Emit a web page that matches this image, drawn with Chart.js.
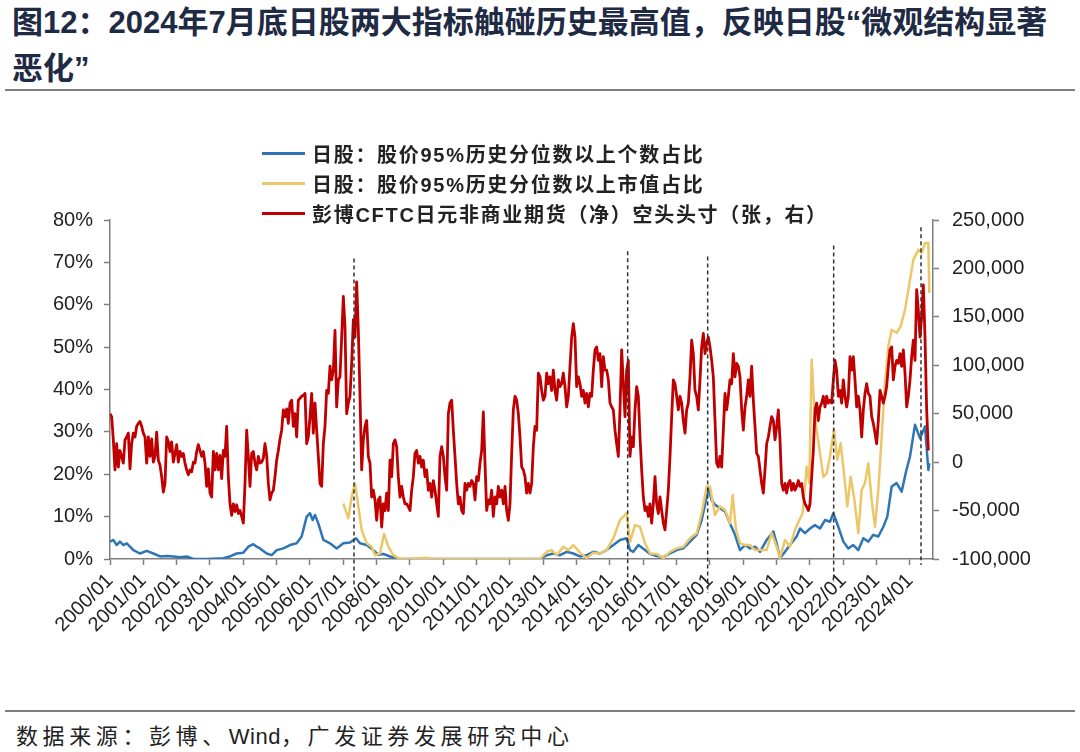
<!DOCTYPE html>
<html lang="zh-CN">
<head>
<meta charset="utf-8">
<title>图12</title>
<script src="https://cdn.jsdelivr.net/npm/chart.js@4.4.1/dist/chart.umd.min.js"></script>
<style>
  html, body { margin: 0; padding: 0; background: #fff; }
  body { width: 1080px; height: 752px; position: relative; overflow: hidden;
         font-family: "Liberation Sans", Arial, "Noto Sans CJK SC", sans-serif; }
  #title { position: absolute; left: 12px; top: 0; color: #1f2a44; white-space: nowrap;
           font: bold 31px/46px "Liberation Sans", "Noto Sans CJK SC", sans-serif; }
  .rule { position: absolute; left: 5px; width: 1070px; height: 2px; background: #7f7f7f; }
  #legend { position: absolute; left: 262px; top: 138px; z-index: 2; }
  #legend .item { height: 30px; display: flex; align-items: center; color: #222;
                  font: bold 20px "Liberation Sans", "Noto Sans CJK SC", sans-serif; letter-spacing: 1.7px; }
  #legend .swatch { width: 43px; height: 3px; margin-right: 7px; }
  #wrap { position: absolute; left: 0; top: 195px; width: 1080px; height: 500px; }
  #source { position: absolute; left: 16px; top: 718px; color: #222;
            font: 22px "Liberation Sans", "Noto Sans CJK SC", sans-serif; letter-spacing: 4.6px; }
  #source .latin { letter-spacing: 0.5px; }
</style>
</head>
<body>
<div id="title">图12：2024年7月底日股两大指标触碰历史最高值，反映日股“微观结构显著<br>恶化”</div>
<div class="rule" style="top:89px"></div>
<div id="legend"></div>
<div id="wrap"><canvas id="chart"></canvas></div>
<div class="rule" style="top:710px"></div>
<div id="source">数据来源：彭博、<span class="latin">Wind</span>，广发证券发展研究中心</div>

<script>
// 日股：股价95%历史分位数以上个数占比（%，左轴）
const countDates = [
  2000.00, 2000.10, 2000.20, 2000.30, 2000.40, 2000.50, 2000.60, 2000.70, 2000.90, 2001.10,
  2001.30, 2001.50, 2001.70, 2001.90, 2002.10, 2002.30, 2002.50, 2002.90, 2003.40, 2003.60,
  2003.80, 2004.00, 2004.15, 2004.30, 2004.40, 2004.50, 2004.70, 2004.85, 2005.00, 2005.20,
  2005.40, 2005.60, 2005.75, 2005.90, 2006.00, 2006.08, 2006.15, 2006.25, 2006.40, 2006.60,
  2006.80, 2007.00, 2007.20, 2007.38, 2007.50, 2007.70, 2007.90, 2008.05, 2008.20, 2008.40,
  2008.70, 2012.90, 2013.10, 2013.30, 2013.50, 2013.70, 2013.90, 2014.10, 2014.30, 2014.50,
  2014.70, 2014.90, 2015.10, 2015.30, 2015.50, 2015.60, 2015.70, 2015.85, 2016.05, 2016.20,
  2016.40, 2016.60, 2016.80, 2017.00, 2017.20, 2017.40, 2017.60, 2017.75, 2017.90, 2017.96,
  2018.05, 2018.15, 2018.30, 2018.45, 2018.60, 2018.75, 2018.90, 2019.05, 2019.20, 2019.35,
  2019.50, 2019.70, 2019.90, 2020.00, 2020.10, 2020.25, 2020.40, 2020.60, 2020.70, 2020.85,
  2021.00, 2021.15, 2021.30, 2021.45, 2021.60, 2021.70, 2021.85, 2022.00, 2022.15, 2022.30,
  2022.45, 2022.60, 2022.75, 2022.90, 2023.05, 2023.20, 2023.32, 2023.45, 2023.60, 2023.75,
  2023.88, 2024.00, 2024.15, 2024.30, 2024.45, 2024.55, 2024.58
];
const countPct = [
  4.1, 4.5, 3.3, 4.1, 3.3, 3.7, 2.9, 2.1, 1.3, 1.9,
  1.3, 0.6, 0.7, 0.6, 0.4, 0.6, 0.0, 0.0, 0.2, 0.6,
  1.3, 1.5, 2.9, 3.5, 2.9, 2.5, 1.3, 0.9, 2.1, 2.5,
  3.3, 3.7, 5.3, 10.0, 10.8, 9.2, 10.4, 8.4, 4.5, 3.7,
  2.5, 3.7, 3.9, 4.9, 3.7, 3.3, 2.1, 1.0, 1.2, 0.6,
  0.0, 0.0, 0.9, 1.3, 0.9, 1.7, 1.3, 0.6, 0.9, 1.7,
  1.3, 2.1, 3.3, 4.5, 4.9, 2.1, 1.7, 3.3, 2.1, 1.2,
  0.7, 0.4, 1.3, 2.1, 2.5, 4.1, 5.7, 9.2, 14.7, 16.7,
  13.9, 12.8, 12.0, 11.2, 8.4, 5.7, 2.1, 3.3, 2.5, 2.9,
  1.7, 4.5, 6.5, 3.7, 0.2, 1.7, 3.3, 5.3, 7.2, 6.1,
  7.2, 8.0, 7.2, 9.2, 8.8, 10.8, 7.6, 4.1, 2.5, 3.3,
  2.1, 4.9, 4.1, 5.7, 5.3, 7.6, 10.0, 17.1, 17.9, 15.9,
  20.6, 24.2, 31.7, 28.5, 31.3, 21.0, 22.6
];

// 日股：股价95%历史分位数以上市值占比（%，左轴）
const capDates = [
  2007.00, 2007.15, 2007.25, 2007.35, 2007.45, 2007.55, 2007.70, 2007.85, 2007.95, 2008.10,
  2008.22, 2008.35, 2008.50, 2008.65, 2008.85, 2009.50, 2009.70, 2012.90, 2013.10, 2013.25,
  2013.40, 2013.60, 2013.75, 2013.90, 2014.10, 2014.30, 2014.50, 2014.70, 2014.90, 2015.10,
  2015.30, 2015.50, 2015.60, 2015.75, 2015.90, 2016.05, 2016.20, 2016.40, 2016.60, 2016.80,
  2017.00, 2017.20, 2017.40, 2017.60, 2017.75, 2017.90, 2018.00, 2018.15, 2018.30, 2018.45,
  2018.60, 2018.68, 2018.78, 2018.90, 2019.05, 2019.20, 2019.35, 2019.50, 2019.70, 2019.85,
  2020.00, 2020.10, 2020.25, 2020.40, 2020.55, 2020.68, 2020.78, 2020.90, 2020.98, 2021.05,
  2021.12, 2021.20, 2021.30, 2021.40, 2021.50, 2021.60, 2021.72, 2021.82, 2021.92, 2022.02,
  2022.12, 2022.22, 2022.32, 2022.45, 2022.55, 2022.65, 2022.75, 2022.85, 2022.95, 2023.05,
  2023.15, 2023.25, 2023.35, 2023.45, 2023.60, 2023.72, 2023.85, 2023.95, 2024.10, 2024.25,
  2024.35, 2024.45, 2024.55, 2024.58
];
const capPct = [
  13.1, 9.6, 14.7, 17.9, 12.4, 6.9, 3.7, 2.9, 0.9, 1.3,
  5.9, 2.9, 0.9, 0.2, 0.0, 0.3, 0.0, 0.0, 1.7, 2.1,
  0.9, 2.9, 2.1, 3.3, 1.5, 0.2, 1.5, 1.3, 2.1, 4.9,
  9.2, 10.8, 4.0, 8.0, 7.6, 3.7, 1.3, 1.2, 0.2, 1.7,
  2.5, 2.9, 4.9, 6.1, 10.8, 17.1, 17.1, 10.4, 12.4, 11.6,
  8.4, 15.1, 6.9, 3.7, 3.3, 3.3, 2.1, 2.1, 2.1, 6.1,
  2.9, 0.2, 4.5, 2.9, 6.9, 9.2, 10.8, 21.8, 17.9, 47.0,
  36.8, 30.5, 25.0, 19.4, 20.2, 24.2, 30.5, 23.4, 27.3, 20.2,
  12.4, 19.4, 14.7, 6.1, 16.3, 17.9, 22.6, 13.9, 7.6, 16.3,
  28.9, 41.5, 50.2, 54.1, 53.4, 54.9, 58.8, 63.5, 70.6, 73.0,
  72.2, 74.6, 74.6, 62.8
];

// 彭博CFTC日元非商业期货（净）空头头寸（张，右轴），2000年起每0.05年一个读数
const cftcStart = 2000, cftcStep = 0.05;
const cftcPos = [
  // 2000
  50000, 47000, 23000, -8000, 19000, -5000, 12000, 6000, -1000, 23000,
  26000, 30000, -7000, 19000, 30000, 26000, 37000, 40000, 42000, 37000,
  // 2001
  30000, 26000, -1000, 26000, 6000, 24000, 0, 6000, 31000, 2000,
  -3000, -15000, -31000, -22000, 26000, 21000, 11000, 21000, 0, 9000,
  // 2002
  18000, 0, 11000, 6000, 9000, -1000, -8000, -13000, -8000, -10000,
  0, -1000, 11000, 18000, 12000, 6000, 11000, -1000, -25000, -7000,
  // 2003
  -32000, -36000, 11000, -8000, 9000, -8000, 7000, -17000, 12000, 6000,
  37000, -15000, -43000, -55000, -43000, -51000, -44000, -53000, -50000, -56000,
  // 2004
  -63000, -22000, 33000, 6000, -25000, 9000, 11000, -1000, -8000, 6000,
  -1000, 0, 4000, 19000, 7000, -22000, -39000, -32000, -29000, -15000,
  // 2005
  2000, 12000, 24000, 33000, 54000, 47000, 55000, 40000, 61000, 64000,
  37000, 50000, 26000, 64000, 66000, 68000, 69000, 71000, 19000, 26000,
  // 2006
  47000, 71000, 30000, 61000, 33000, 6000, -22000, -25000, 19000, 37000,
  74000, 71000, 99000, 85000, 95000, 136000, 57000, 85000, 88000, 129000,
  // 2007
  171000, 140000, 50000, 61000, 68000, 102000, 147000, 129000, 186000, 136000,
  68000, -8000, 23000, 37000, 43000, 6000, -1000, -36000, -29000, -39000,
  // 2008
  -60000, -39000, -36000, -67000, -43000, -50000, -32000, -50000, 2000, -15000,
  19000, 23000, 16000, -15000, -36000, -25000, -36000, -43000, -43000, -46000,
  // 2009
  -50000, -29000, -15000, 9000, 12000, -1000, 6000, -5000, 2000, -15000,
  -8000, -29000, -22000, -36000, -19000, -29000, -43000, -56000, 6000, 16000,
  // 2010
  6000, -15000, -29000, 50000, 61000, 64000, 33000, 6000, -22000, -43000,
  -36000, -50000, -53000, -22000, -29000, -22000, -25000, -19000, -22000, -39000,
  // 2011
  -15000, -19000, -1000, 12000, 52000, -1000, -50000, -39000, -43000, -29000,
  -56000, -36000, -43000, -25000, -36000, -29000, -43000, -25000, -50000, -60000,
  // 2012
  -43000, 9000, 54000, 68000, 64000, 50000, 26000, -5000, -8000, -15000,
  -32000, -22000, -32000, -22000, 16000, 37000, 33000, 92000, 88000, 74000,
  // 2013
  64000, 68000, 92000, 81000, 88000, 74000, 95000, 74000, 64000, 85000,
  78000, 81000, 92000, 78000, 57000, 68000, 99000, 129000, 143000, 129000,
  // 2014
  78000, 88000, 81000, 68000, 74000, 61000, 71000, 57000, 71000, 68000,
  95000, 116000, 119000, 105000, 112000, 78000, 109000, 95000, 95000, 85000,
  // 2015
  61000, 57000, 54000, 33000, 19000, 6000, 54000, 116000, 81000, 47000,
  95000, 105000, 6000, 26000, 16000, 54000, 78000, 68000, 26000, -8000,
  // 2016
  -36000, -50000, -46000, -56000, -43000, -63000, -43000, -15000, -43000, -53000,
  -36000, -50000, -63000, -70000, -50000, -29000, 6000, 47000, 85000, 81000,
  // 2017
  68000, 54000, 68000, 61000, 43000, 30000, 54000, 61000, 88000, 126000,
  112000, 74000, 68000, 54000, 85000, 119000, 133000, 112000, 123000, 129000,
  // 2018
  119000, 105000, 88000, 43000, -1000, -5000, 6000, -5000, 33000, 71000,
  54000, 68000, 85000, 81000, 112000, 88000, 102000, 99000, 88000, 54000,
  // 2019
  33000, 57000, 68000, 85000, 68000, 99000, 64000, 37000, 9000, 6000,
  -8000, -22000, -32000, -8000, 19000, 26000, 37000, 47000, 43000, 23000,
  // 2020
  37000, 54000, 23000, -22000, -29000, -22000, -32000, -22000, -19000, -29000,
  -22000, -29000, -25000, -19000, -25000, -22000, -36000, -43000, -46000, -50000,
  // 2021
  -43000, -15000, 12000, 54000, 61000, 43000, 57000, 61000, 68000, 57000,
  68000, 61000, 64000, 61000, 85000, 105000, 95000, 68000, 74000, 61000,
  // 2022
  85000, 68000, 57000, 68000, 109000, 95000, 109000, 85000, 57000, 68000,
  54000, 26000, 54000, 71000, 81000, 71000, 68000, 47000, 40000, 30000,
  // 2023
  19000, 43000, 74000, 68000, 61000, 68000, 78000, 99000, 116000, 119000,
  85000, 99000, 105000, 102000, 112000, 99000, 116000, 92000, 57000, 68000,
  // 2024
  85000, 109000, 126000, 105000, 178000, 157000, 129000, 150000, 183000, 129000,
  54000, 12000
];
const cftcDates = cftcPos.map((_, i) => +(cftcStart + i * cftcStep).toFixed(2));

// 竖向虚线：日期、上端与下端（左轴%）
const markerDates = [2007.32, 2015.53, 2017.93, 2021.71, 2024.33];
const markerTops = [70.9, 72.6, 71.4, 74.0, 78.3];
const markerBottoms = [-6.6, -6.1, -8.0, -5.4, -1.4];

const xMin = 2000, xMax = 2024.69;

function toPoints(xs, ys) {
    return xs.map((x, i) => ({ x: x, y: ys[i] }));
}

const axisColor = "#7f7f7f";
const tickFont = { family: "'Liberation Sans', Arial, sans-serif", size: 20 };

const datasets = [
    {
        label: "日股：股价95%历史分位数以上个数占比",
        data: toPoints(countDates, countPct),
        yAxisID: "y",
        borderColor: "#2e75b6",
        borderWidth: 2.5,
        order: 3
    },
    {
        label: "日股：股价95%历史分位数以上市值占比",
        data: toPoints(capDates, capPct),
        yAxisID: "y",
        borderColor: "#ebc76a",
        borderWidth: 2.5,
        order: 2
    },
    {
        label: "彭博CFTC日元非商业期货（净）空头头寸（张，右）",
        data: toPoints(cftcDates, cftcPos),
        yAxisID: "y1",
        borderColor: "#c00000",
        borderWidth: 2.8,
        order: 1
    }
];

markerDates.forEach((d, i) => {
    datasets.push({
        label: "marker" + i,
        data: [{ x: d, y: markerTops[i] }, { x: d, y: markerBottoms[i] }],
        yAxisID: "y",
        borderColor: "#333",
        borderWidth: 1.5,
        borderDash: [4, 3],
        clip: false,
        order: 0
    });
});

const chart = new Chart(document.getElementById("chart"), {
    type: "line",
    data: { datasets: datasets },
    options: {
        responsive: true,
        maintainAspectRatio: false,
        animation: false,
        layout: { padding: { top: 15, left: 0, right: 0, bottom: 0 } },
        elements: {
            point: { radius: 0, hoverRadius: 0 },
            line: { tension: 0, borderJoinStyle: "round", borderCapStyle: "butt" }
        },
        plugins: {
            legend: { display: false },
            tooltip: { enabled: false }
        },
        scales: {
            x: {
                type: "linear",
                min: xMin,
                max: xMax,
                afterFit: s => { s.height = 136; },
                border: { color: axisColor, width: 1.5 },
                grid: { drawOnChartArea: false, drawTicks: true, tickLength: 6, tickColor: axisColor, tickWidth: 1.5 },
                ticks: {
                    stepSize: 1,
                    includeBounds: false,
                    autoSkip: false,
                    maxRotation: 45,
                    minRotation: 45,
                    padding: 4,
                    color: "#222",
                    font: tickFont,
                    callback: v => v + "/01"
                }
            },
            y: {
                position: "left",
                min: 0,
                max: 80,
                afterFit: s => { s.width = 110; },
                border: { color: axisColor, width: 1.5 },
                grid: { drawOnChartArea: false, drawTicks: true, tickLength: 6, tickColor: axisColor, tickWidth: 1.5 },
                ticks: { stepSize: 10, padding: 11, color: "#222", font: tickFont, callback: v => v + "%" }
            },
            y1: {
                position: "right",
                min: -100000,
                max: 250000,
                afterFit: s => { s.width = 147; },
                border: { color: axisColor, width: 1.5 },
                grid: { drawOnChartArea: false, drawTicks: true, tickLength: 6, tickColor: axisColor, tickWidth: 1.5 },
                ticks: { stepSize: 50000, padding: 13, color: "#222", font: tickFont,
                         callback: v => v.toLocaleString("en-US") }
            }
        }
    }
});

// 图例：取前三个数据系列
const legendBox = document.getElementById("legend");
chart.data.datasets.slice(0, 3).forEach(ds => {
    const item = document.createElement("div");
    item.className = "item";
    const sw = document.createElement("span");
    sw.className = "swatch";
    sw.style.background = ds.borderColor;
    item.appendChild(sw);
    item.appendChild(document.createTextNode(ds.label));
    legendBox.appendChild(item);
});
</script>
</body>
</html>
